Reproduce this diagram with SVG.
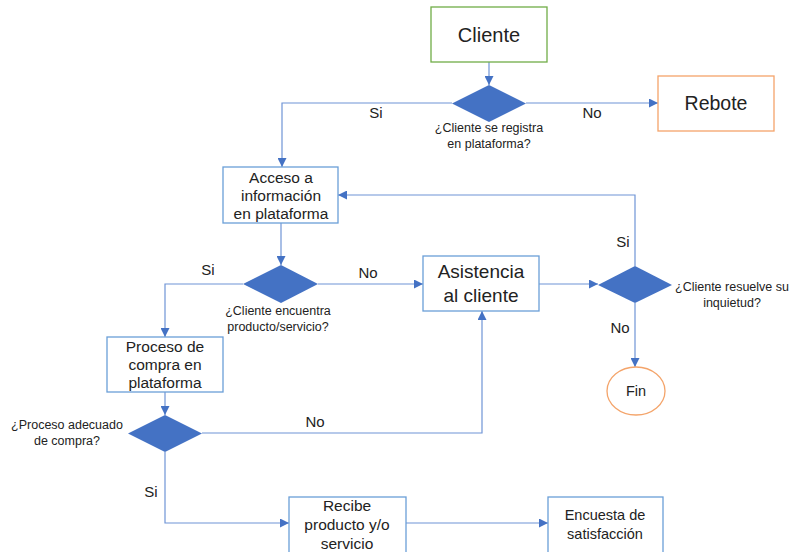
<svg xmlns="http://www.w3.org/2000/svg" width="793" height="552" viewBox="0 0 793 552">
<style>
text{font-family:"Liberation Sans",Arial,sans-serif;fill:#222;text-anchor:middle}
.box{fill:#fff;stroke:#6a9fd8;stroke-width:1.3}
.dia{fill:#4472c4;stroke:none}
.con{fill:none;stroke:#6f94d6;stroke-width:1.2}
.q{font-size:12.5px}
.lbl{font-size:15px}
.t{font-size:15.5px}
</style>
<defs>
<marker id="arr" viewBox="0 0 10 10" refX="10" refY="5" markerWidth="9" markerHeight="9" markerUnits="userSpaceOnUse" orient="auto">
<path d="M0,0 L10,5 L0,10 z" fill="#4472c4"/>
</marker>
</defs>
<rect width="793" height="552" fill="#fff"/>
<g id="connectors">
<path class="con" d="M489,62 V85" marker-end="url(#arr)"/>
<path class="con" d="M526,103 H658" marker-end="url(#arr)"/>
<path class="con" d="M452,103 H282 V167" marker-end="url(#arr)"/>
<path class="con" d="M281,223 V265" marker-end="url(#arr)"/>
<path class="con" d="M318,284 H423" marker-end="url(#arr)"/>
<path class="con" d="M243,284 H165 V337" marker-end="url(#arr)"/>
<path class="con" d="M539,284 H598" marker-end="url(#arr)"/>
<path class="con" d="M635,266 V195 H338" marker-end="url(#arr)"/>
<path class="con" d="M635,303 V367" marker-end="url(#arr)"/>
<path class="con" d="M165,392 V415" marker-end="url(#arr)"/>
<path class="con" d="M202,433 H482 V311" marker-end="url(#arr)"/>
<path class="con" d="M165,452 V523 H289" marker-end="url(#arr)"/>
<path class="con" d="M406,523 H548" marker-end="url(#arr)"/>
<text class="lbl" x="376" y="118">Si</text>
<text class="lbl" x="592" y="118">No</text>
<text class="lbl" x="208" y="275">Si</text>
<text class="lbl" x="368" y="278">No</text>
<text class="lbl" x="623" y="247">Si</text>
<text class="lbl" x="620" y="333">No</text>
<text class="lbl" x="315" y="427">No</text>
<text class="lbl" x="151" y="497">Si</text>
</g>
<g id="cliente">
<rect x="431" y="7" width="116" height="55" fill="#fff" stroke="#70ad47" stroke-width="1.3"/>
<text x="489" y="42" font-size="20">Cliente</text>
</g>
<g id="registra">
<polygon class="dia" points="489,85 526,103.5 489,122 452,103.5"/>
<text class="q" x="489" y="132">¿Cliente se registra</text>
<text class="q" x="489" y="148">en plataforma?</text>
</g>
<g id="rebote">
<rect x="658" y="76" width="116" height="55" fill="#fff" stroke="#f4a46a" stroke-width="1.3"/>
<text x="716" y="110" font-size="19.5">Rebote</text>
</g>
<g id="acceso">
<rect class="box" x="223" y="167" width="115" height="56"/>
<text class="t" x="281" y="183">Acceso a</text>
<text class="t" x="281" y="201">información</text>
<text class="t" x="281" y="219">en plataforma</text>
</g>
<g id="encuentra">
<polygon class="dia" points="281,265 318,284 281,303 243,284"/>
<text class="q" x="278" y="315">¿Cliente encuentra</text>
<text class="q" x="278" y="331">producto/servicio?</text>
</g>
<g id="asistencia">
<rect class="box" x="423" y="256" width="116" height="55"/>
<text x="481" y="278" font-size="19">Asistencia</text>
<text x="481" y="302" font-size="19">al cliente</text>
</g>
<g id="resuelve">
<polygon class="dia" points="635,266 672,285 635,303 598,285"/>
<text class="q" x="732" y="291">¿Cliente resuelve su</text>
<text class="q" x="732" y="307">inquietud?</text>
</g>
<g id="fin">
<ellipse cx="636" cy="391" rx="29" ry="24" fill="#fff" stroke="#f4a46a" stroke-width="1.3"/>
<text x="636" y="396" font-size="14.5">Fin</text>
</g>
<g id="proceso">
<rect class="box" x="107" y="337" width="116" height="55"/>
<text class="t" x="165" y="352">Proceso de</text>
<text class="t" x="165" y="370">compra en</text>
<text class="t" x="165" y="388">plataforma</text>
</g>
<g id="adecuado">
<polygon class="dia" points="165,415 202,433.5 165,452 128,433.5"/>
<text class="q" x="67" y="429">¿Proceso adecuado</text>
<text class="q" x="67" y="445">de compra?</text>
</g>
<g id="recibe">
<rect class="box" x="289" y="497" width="117" height="62"/>
<text class="t" x="347" y="511">Recibe</text>
<text class="t" x="347" y="530">producto y/o</text>
<text class="t" x="347" y="549">servicio</text>
</g>
<g id="encuesta">
<rect class="box" x="548" y="497" width="115" height="62"/>
<text x="605" y="520" font-size="14.5">Encuesta de</text>
<text x="605" y="539" font-size="14.5">satisfacción</text>
</g>
</svg>
